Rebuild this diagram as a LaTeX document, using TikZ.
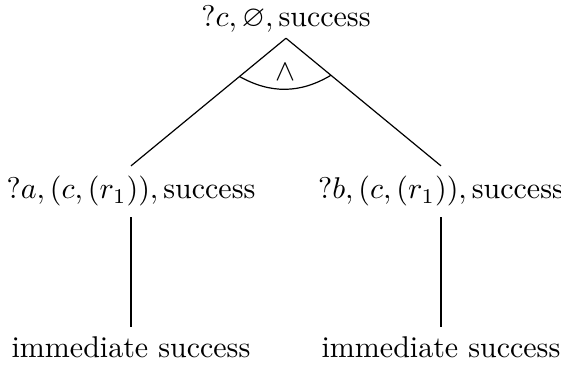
\documentclass[tikz,border=0pt]{standalone}
\usepackage{amsmath}
\usepackage{amssymb}
\usepackage{tikz}

\begin{document}
\begin{tikzpicture}[
  x=0.3333pt, y=-0.3333pt,
  goal/.style={anchor=base},
  edge/.style={line width=0.4pt}
]
\useasboundingbox (0,0) rectangle (561,372);

\node[goal, inner sep=1.6pt] (root) at (286,27) {$?c, \varnothing, \text{success}$};
\node[goal] (left)  at (131,199) {$?a, (c, (r_1)), \text{success}$};
\node[goal] (right) at (441,199) {$?b, (c, (r_1)), \text{success}$};
\node[goal] (leafl) at (131,358) {immediate success};
\node[goal] (leafr) at (441,358) {immediate success};

\draw[edge] (root.south) -- coordinate[pos=0.3] (andl) (left.north);
\draw[edge] (root.south) -- coordinate[pos=0.29] (andr) (right.north);
\draw[edge] (andl) to[bend right=30] (andr);
\node (andsym) at (285,72) {$\wedge$};

\draw[edge] (left.south) -- (leafl.north);
\draw[edge] (right.south) -- (leafr.north);
\end{tikzpicture}
\end{document}
